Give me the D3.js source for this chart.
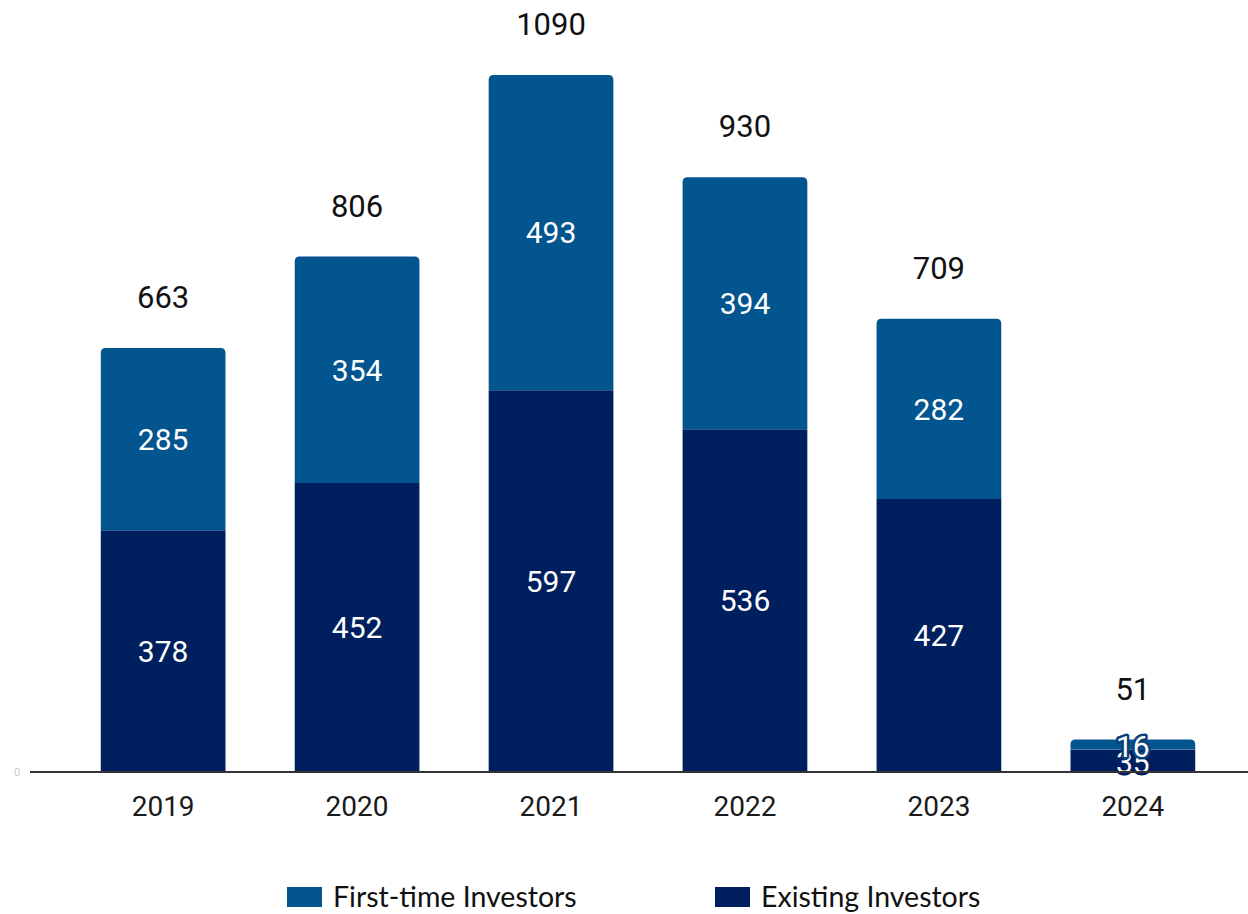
<!DOCTYPE html>
<html>
<head>
<meta charset="utf-8">
<script src="https://cdn.jsdelivr.net/npm/d3@7"></script>
<style>
  body { margin: 0; background: #fff; }
  svg { display: block; }
</style>
</head>
<body>
<div id="chart"></div>
<script>
var width = 1248, height = 914

var years = ["2019", "2020", "2021", "2022", "2023", "2024"]
var existing = [378, 452, 597, 536, 427, 35]
var firstTime = [285, 354, 493, 394, 282, 16]
var totals = [663, 806, 1090, 930, 709, 51]
var seriesNames = ["First-time Investors", "Existing Investors"]
var colors = ["#02558f", "#001f5e"]

var svg = d3.select("#chart").append("svg")
    .attr("width", width)
    .attr("height", height)

var x = d3.scaleBand()
    .domain(years)
    .range([30, 1266])
    .paddingInner(0.357)
    .paddingOuter(0.365)

var y = d3.scaleLinear()
    .domain([0, 1090])
    .range([772, 75])

// rounded top corners only
function topRounded(x0, y0, w, h, r) {
  r = Math.min(r, h, w / 2)
  return "M" + x0 + "," + (y0 + h) +
    "V" + (y0 + r) +
    "Q" + x0 + "," + y0 + " " + (x0 + r) + "," + y0 +
    "H" + (x0 + w - r) +
    "Q" + (x0 + w) + "," + y0 + " " + (x0 + w) + "," + (y0 + r) +
    "V" + (y0 + h) + "Z"
}

var rows = years.map(function(d, i) {
  return {year: d, ex: existing[i], ft: firstTime[i], total: totals[i]}
})

var g = svg.append("g")

// existing (bottom)
g.selectAll("rect.ex")
  .data(rows)
  .enter().append("rect")
  .attr("class", "ex")
  .attr("x", function(d) { return x(d.year) })
  .attr("width", x.bandwidth())
  .attr("y", function(d) { return y(d.ex) })
  .attr("height", function(d) { return y(0) - y(d.ex) })
  .attr("fill", colors[1])

// first-time (top)
g.selectAll("path.ft")
  .data(rows)
  .enter().append("path")
  .attr("class", "ft")
  .attr("d", function(d) {
    var top = y(d.ex + d.ft)
    return topRounded(x(d.year), top, x.bandwidth(), y(d.ex) - top, 5)
  })
  .attr("fill", colors[0])

// axis line
svg.append("line")
  .attr("x1", 30).attr("x2", width)
  .attr("y1", y(0)).attr("y2", y(0))
  .attr("stroke", "#333")
  .attr("stroke-width", 2)

svg.append("text")
  .attr("x", 17).attr("y", y(0) + 4)
  .attr("text-anchor", "middle")
  .attr("font-family", "Roboto")
  .attr("font-size", 11)
  .attr("fill", "#ccc")
  .text("0")

// year labels
svg.selectAll("text.year")
  .data(years)
  .enter().append("text")
  .attr("class", "year")
  .attr("x", function(d) { return x(d) + x.bandwidth() / 2 })
  .attr("y", 816)
  .attr("text-anchor", "middle")
  .attr("font-family", "Roboto")
  .attr("font-size", 28)
  .attr("fill", "#1a1a1a")
  .text(function(d) { return d })

// segment labels
function segLabel(cls, val, mid, halo) {
  g.selectAll("text." + cls)
    .data(rows)
    .enter().append("text")
    .attr("class", cls)
    .attr("x", function(d) { return x(d.year) + x.bandwidth() / 2 })
    .attr("y", function(d) { return mid(d) })
    .attr("dy", "0.36em")
    .attr("text-anchor", "middle")
    .attr("font-family", "Roboto")
    .attr("font-size", 30)
    .attr("fill", "#fff")
    .attr("stroke", halo)
    .attr("stroke-width", function(d) { return d.total < 100 ? 5 : 0 })
    .attr("paint-order", "stroke")
    .attr("stroke-linejoin", "round")
    .text(function(d) { return d[val] })
}
segLabel("exl", "ex", function(d) { return d.total < 100 ? y(0) - 10 : (y(0) + y(d.ex)) / 2 }, colors[1])
segLabel("ftl", "ft", function(d) { return d.total < 100 ? y(0) - 26 : (y(d.ex) + y(d.ex + d.ft)) / 2 }, "#0a3f7c")

// totals
g.selectAll("text.tot")
  .data(rows)
  .enter().append("text")
  .attr("class", "tot")
  .attr("x", function(d) { return x(d.year) + x.bandwidth() / 2 })
  .attr("y", function(d) { return y(d.total) - 51 })
  .attr("dy", "0.36em")
  .attr("text-anchor", "middle")
  .attr("font-family", "Roboto")
  .attr("font-size", 31)
  .attr("fill", "#111")
  .attr("stroke", "#fff")
  .attr("stroke-width", 6)
  .attr("paint-order", "stroke")
  .attr("stroke-linejoin", "round")
  .text(function(d) { return d.total })

// legend
var legendX = [287, 715]
var legend = svg.selectAll("g.leg")
  .data(seriesNames)
  .enter().append("g")
  .attr("class", "leg")
  .attr("transform", function(d, i) { return "translate(" + legendX[i] + ",887)" })

legend.append("rect")
  .attr("width", 35).attr("height", 20)
  .attr("fill", function(d, i) { return colors[i] })

legend.append("text")
  .attr("x", 46).attr("y", 10)
  .attr("dy", "0.36em")
  .attr("font-family", "Lato")
  .attr("font-size", 28.5)
  .attr("fill", "#111")
  .text(function(d) { return d })
</script>
</body>
</html>
